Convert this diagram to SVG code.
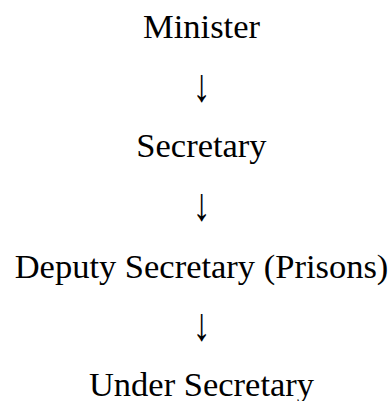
<svg xmlns="http://www.w3.org/2000/svg" width="392" height="401" viewBox="0 0 392 401">
<style>
.t{font-family:"Liberation Serif","Times New Roman",serif;font-size:34.5px;fill:#000;text-anchor:middle}
.a{font-family:"Liberation Serif","Times New Roman",serif;font-size:36px;fill:#000;text-anchor:middle}
</style>
<rect width="392" height="401" fill="#fff"/>
<g id="minister"><text class="t" x="201.5" y="37.7">Minister</text></g>
<g id="secretary"><text class="t" x="201.5" y="156.5">Secretary</text></g>
<g id="deputy"><text class="t" x="201.5" y="277.5">Deputy Secretary (Prisons)</text></g>
<g id="under"><text class="t" x="201.5" y="396">Under Secretary</text></g>
<g id="connectors">
<text class="a" transform="translate(201.5,100.5) scale(1,1.3)">↓</text>
<text class="a" transform="translate(201.5,220) scale(1,1.3)">↓</text>
<text class="a" transform="translate(201.5,339.5) scale(1,1.3)">↓</text>
</g>
</svg>
